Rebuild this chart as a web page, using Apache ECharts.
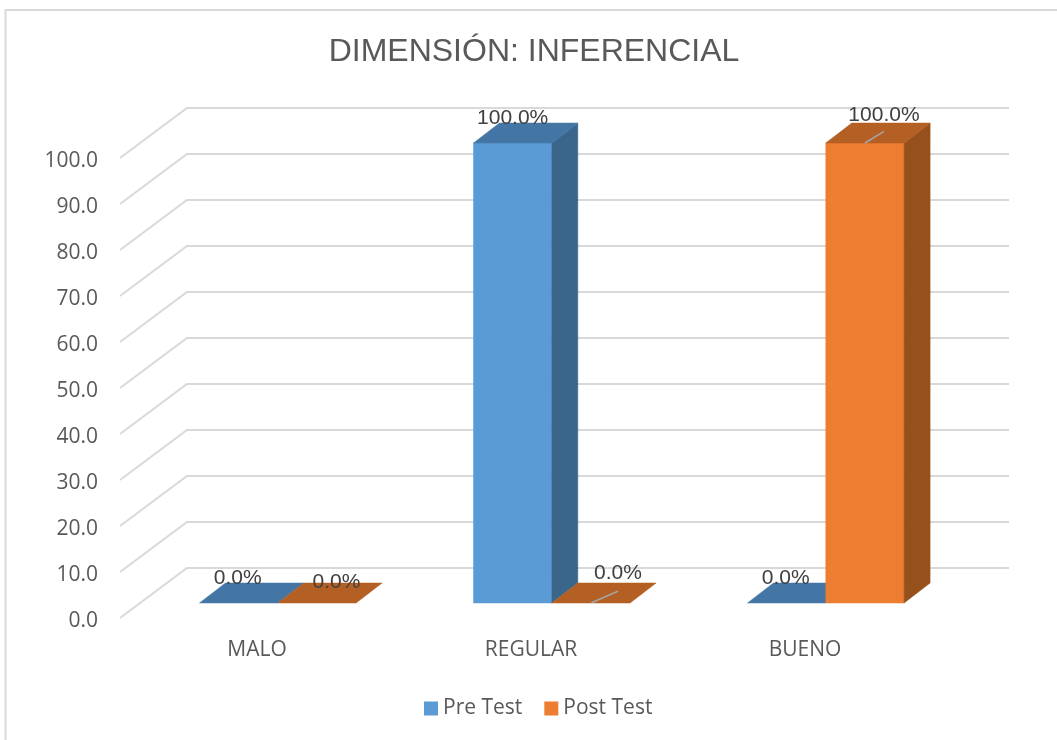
<!DOCTYPE html>
<html><head><meta charset="utf-8">
<style>html,body{margin:0;padding:0;background:#fff}#c{width:1057px;height:740px}</style>
<script src="https://cdn.jsdelivr.net/npm/echarts@6/dist/echarts.min.js"></script>
</head><body><div id="c"></div>
<script>
const categories = ['MALO', 'REGULAR', 'BUENO'];
const preTest = [0, 100, 0];
const postTest = [0, 0, 100];
const yTicks = [0, 10, 20, 30, 40, 50, 60, 70, 80, 90, 100];

// 3D projection as fractions of one category band
const wallDepth = [67 / 274, -50 / 274];
const barInset = [20.8 / 274, -15 / 274];
const barDepth = [26 / 274, -20 / 274];
const barWidth = 78.3 / 274;

const styles = {
  pre: { front: '#5B9BD5', top: '#4476A5', side: '#3A668C' },
  post: { front: '#ED7D31', top: '#B45F23', side: '#96501C' }
};
// label placement relative to the top of each bar's front face: [dx, dy, hasLeader]
const preLabelPos = [[-1, -25], [0, -25], [-1, -25]];
const postLabelPos = [[19.5, -21], [27, -30, 1], [19, -28, 1]];

function poly(points, fill) {
  return { type: 'polygon', shape: { points }, style: { fill, stroke: fill, lineWidth: 0.5 } };
}

function barRenderer(palette, side, labelPos) {
  return function (params, api) {
    const i = api.value(0), v = api.value(1);
    const base = api.coord([i, 0]), topC = api.coord([i, v]);
    const band = api.size([1, 0])[0];
    const ix = band * barInset[0], iy = band * barInset[1];
    const w = band * barWidth, dx = band * barDepth[0], dy = band * barDepth[1];
    const l = base[0] + ix + (side < 0 ? -w : 0), r = l + w;
    const yb = base[1] + iy, yt = topC[1] + iy;
    const children = [];
    if (v > 0) {
      children.push(poly([[l, yb], [r, yb], [r, yt], [l, yt]], palette.front));
      children.push(poly([[r, yb], [r + dx, yb + dy], [r + dx, yt + dy], [r, yt]], palette.side));
    }
    children.push(poly([[l, yt], [r, yt], [r + dx, yt + dy], [l + dx, yt + dy]], palette.top));
    const p = labelPos[i], cx = (l + r) / 2;
    if (p[2]) {
      children.push({
        type: 'line',
        shape: { x1: cx, y1: yt, x2: cx + p[0], y2: yt - 11.7 },
        style: { stroke: '#A6A6A6', lineWidth: 1.5 }
      });
    }
    children.push({
      type: 'text',
      style: {
        text: v.toFixed(1) + '%', x: cx + p[0], y: yt + p[1],
        align: 'center', verticalAlign: 'middle',
        fill: '#404040', font: '21px "Liberation Sans"'
      }
    });
    return { type: 'group', children };
  };
}

function gridRenderer(params, api) {
  const v = api.value(0);
  const band = api.size([1, 0])[0];
  const first = api.coord([0, v]);
  const last = api.coord([categories.length - 1, v]);
  const x0 = first[0] - band / 2, y0 = first[1];
  const bx = x0 + band * wallDepth[0], by = y0 + band * wallDepth[1];
  const ex = last[0] + band / 2 + band * wallDepth[0];
  return {
    type: 'polyline',
    shape: { points: [[x0, y0], [bx, by], [ex, by]] },
    style: { fill: null, stroke: '#D9D9D9', lineWidth: 2 }
  };
}

const chart = echarts.init(document.getElementById('c'));
chart.setOption({
  animation: false,
  backgroundColor: '#fff',
  graphic: [{
    type: 'rect', silent: true, z: -1,
    shape: { x: 5.5, y: 10, width: 1100, height: 760 },
    style: { fill: '#fff', stroke: '#D9D9D9', lineWidth: 2 }
  }],
  title: {
    text: 'DIMENSIÓN: INFERENCIAL', left: 529, top: 31, textAlign: 'center',
    textStyle: { fontFamily: 'Liberation Sans', fontSize: 32, fontWeight: 'normal', color: '#595959' }
  },
  legend: {
    data: ['Pre Test', 'Post Test'], left: 424, top: 698,
    icon: 'rect', itemWidth: 14, itemHeight: 14, itemGap: 22, padding: 0,
    textStyle: { fontFamily: 'Open Sans', fontSize: 21, color: '#595959' }
  },
  grid: { left: 120, top: 158, width: 822, height: 460 },
  xAxis: {
    type: 'category', data: categories,
    axisLine: { show: false }, axisTick: { show: false }, splitLine: { show: false },
    axisLabel: { margin: 22, fontFamily: 'Open Sans', fontSize: 21, color: '#595959' }
  },
  yAxis: {
    type: 'value', min: 0, max: 100, interval: 10,
    axisLine: { show: false }, axisTick: { show: false }, splitLine: { show: false },
    axisLabel: { margin: 22, fontFamily: 'Open Sans', fontSize: 21, color: '#595959', verticalAlign: 'top', lineHeight: 6, formatter: v => v.toFixed(1) }
  },
  series: [
    { type: 'custom', name: 'grid', silent: true, z: 1, renderItem: gridRenderer,
      data: yTicks.map(v => [v]), encode: { y: 0 }, clip: false },
    { type: 'custom', name: 'Pre Test', z: 2, clip: false,
      itemStyle: { color: styles.pre.front },
      renderItem: barRenderer(styles.pre, -1, preLabelPos),
      data: preTest.map((v, i) => [i, v]), encode: { x: 0, y: 1 } },
    { type: 'custom', name: 'Post Test', z: 3, clip: false,
      itemStyle: { color: styles.post.front },
      renderItem: barRenderer(styles.post, 1, postLabelPos),
      data: postTest.map((v, i) => [i, v]), encode: { x: 0, y: 1 } }
  ]
});
</script></body></html>
